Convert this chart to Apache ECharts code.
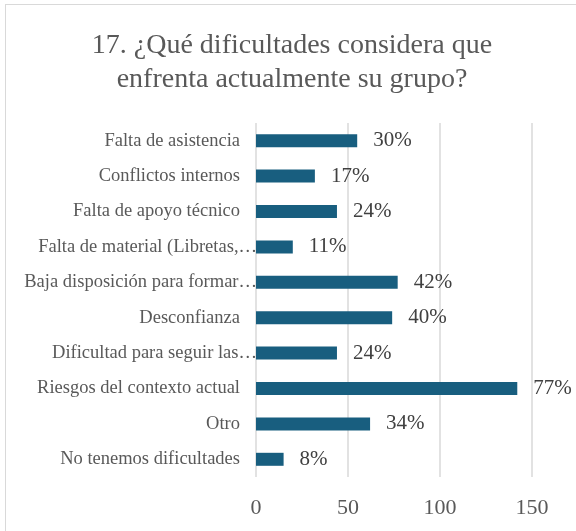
<!DOCTYPE html>
<html>
<head>
<meta charset="utf-8">
<script src="https://cdn.jsdelivr.net/npm/echarts@6/dist/echarts.min.js"></script>
<style>
  html, body { margin: 0; padding: 0; background: #fff; }
  #frame { position: absolute; left: 5px; top: 4px; width: 600px; height: 560px;
           border-left: 1px solid #d9d9d9; border-top: 1px solid #d9d9d9; }
  #chart { position: absolute; left: 0; top: 0; width: 576px; height: 531px; }
</style>
</head>
<body>
<div id="frame"></div>
<div id="chart"></div>
<script>
// categorías (texto tal como aparece, ya recortado)
const categories = [
  'Falta de asistencia',
  'Conflictos internos',
  'Falta de apoyo técnico',
  'Falta de material (Libretas,…',
  'Baja disposición para formar…',
  'Desconfianza',
  'Dificultad para seguir las…',
  'Riesgos del contexto actual',
  'Otro',
  'No tenemos dificultades'
];
// número de respuestas (eje X)
const counts = [55, 32, 44, 20, 77, 74, 44, 142, 62, 15];
// porcentaje mostrado en cada barra
const percents = ['30%', '17%', '24%', '11%', '42%', '40%', '24%', '77%', '34%', '8%'];
const xTicks = [0, 50, 100, 150];

const serif = 'Liberation Serif';
const chart = echarts.init(document.getElementById('chart'), null, { renderer: 'canvas' });

// las etiquetas recortadas dejan colgar los "…" hasta el eje, como en Excel
const yData = categories.map(c => c.endsWith('…')
  ? { value: c, textStyle: { padding: [0, -17, 0, 0] } }
  : c);

const option = {
  backgroundColor: 'transparent',
  animation: false,
  graphic: [
    {
      type: 'text',
      x: 292,
      y: 29,
      style: {
        text: '17. ¿Qué dificultades considera que\nenfrenta actualmente su grupo?',
        textAlign: 'center',
        fill: '#595959',
        fontFamily: serif,
        fontSize: 28,
        lineHeight: 34
      }
    }
  ],
  grid: { left: 256, right: 44, top: 123, bottom: 54, containLabel: false },
  xAxis: {
    type: 'value',
    min: xTicks[0],
    max: xTicks[xTicks.length - 1],
    interval: 50,
    axisLine: { show: false },
    axisTick: { show: false },
    splitLine: { show: true, lineStyle: { color: '#d9d9d9', width: 1.5 } },
    axisLabel: { color: '#595959', fontFamily: serif, fontSize: 22, margin: 20 }
  },
  yAxis: {
    type: 'category',
    data: yData,
    inverse: true,
    axisLine: { show: false },
    axisTick: { show: false },
    axisLabel: { color: '#595959', fontFamily: serif, fontSize: 18.5, margin: 16 }
  },
  series: [
    {
      type: 'bar',
      data: counts,
      barWidth: 13,
      itemStyle: { color: '#185E7F' },
      label: {
        show: true,
        position: 'right',
        distance: 16,
        color: '#404040',
        fontFamily: serif,
        fontSize: 21,
        formatter: p => percents[p.dataIndex]
      }
    }
  ]
};

chart.setOption(option);
</script>
</body>
</html>
